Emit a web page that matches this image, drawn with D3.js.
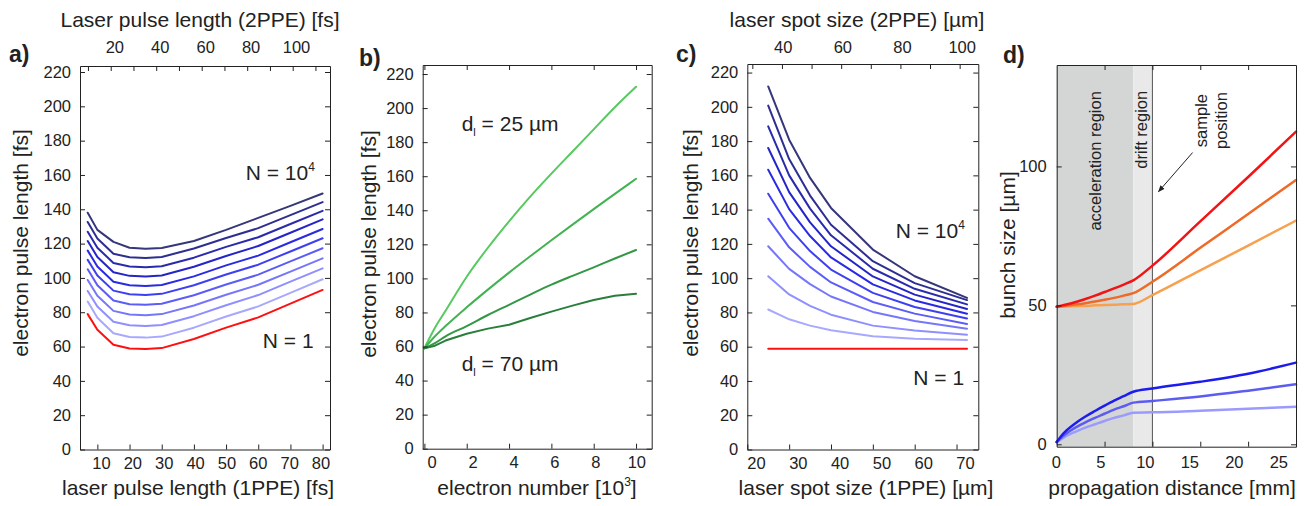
<!DOCTYPE html>
<html>
<head>
<meta charset="utf-8">
<script src="https://d3js.org/d3.v7.min.js"></script>
<style>
  body { margin: 0; background: #fff; }
  svg text { font-family: "Liberation Sans", Arial, Helvetica, sans-serif; fill: #222; }
</style>
</head>
<body>
<div id="chart"></div>
<script>
// ---- data ----

// a) pulse length vs laser pulse length, N = 1 (red) and 10 blue curves up to N = 10^4
var aX = [7, 10, 15, 20, 25, 30, 40, 50, 60, 70, 80];
var aRed = [78.9, 69.8, 61, 58.9, 58.5, 59.1, 64.4, 71, 77, 85, 93];
var aBlue = [
  [86.2, 76.8, 67.7, 65.6, 65.2, 65.8, 71, 77.5, 83.4, 91.3, 99.2],
  [92.4, 83.3, 74.5, 72.4, 72, 72.6, 77.7, 84.1, 90, 97.8, 105.6],
  [98.8, 89.6, 80.8, 78.7, 78.3, 78.9, 83.9, 90.2, 96, 103.7, 111.4],
  [105, 95.7, 86.8, 84.7, 84.3, 84.9, 89.9, 96.2, 101.9, 109.6, 117.3],
  [110.5, 101.4, 92.6, 90.5, 90.1, 90.7, 95.7, 102, 107.7, 115.4, 123.1],
  [115.9, 106.7, 97.8, 95.7, 95.3, 95.9, 100.9, 107.3, 113, 120.8, 128.5],
  [121.5, 112.2, 103.3, 101.2, 100.8, 101.4, 106.5, 112.8, 118.6, 126.3, 134.1],
  [126.9, 117.6, 108.7, 106.6, 106.2, 106.8, 111.8, 118.1, 123.7, 131.4, 139.1],
  [132.6, 123, 114.1, 112, 111.6, 112.2, 117.1, 123.3, 129, 136.6, 144.2],
  [138, 128, 121, 117.6, 117, 117.4, 121.5, 128, 135, 142, 149.2]
];

// b) pulse length vs electron number (10^3)
var bX = [0, 0.5, 1, 2, 3, 4, 5, 6, 7, 8, 9, 10];
var b25 = [59, 71, 81, 101, 118, 133.5, 148, 161.5, 174.5, 187.5, 200.5, 212.5];
var bMid1 = [59, 66, 72, 83, 93.4, 103.4, 113, 122.4, 131.6, 140.7, 149.6, 158.5];
var bMid2 = [59, 62, 66, 72, 78.5, 84.5, 90.5, 96.3, 101.5, 106.5, 111.7, 116.7];
var b70 = [59, 60.5, 63.5, 67.5, 70.5, 72.8, 76.7, 80.5, 84, 87.3, 89.8, 91];

// c) pulse length vs laser spot size
var cX = [25, 30, 35, 40, 50, 60, 72.5];
var cRed = [58.8, 58.8, 58.8, 58.8, 58.8, 58.8, 58.8];
var cBlue = [
  [81.7, 76, 72.3, 69.6, 66.1, 64.7, 63.9],
  [101.1, 90.5, 83.8, 78.7, 72.3, 69.4, 67],
  [118.6, 105.4, 96.5, 89.3, 80.3, 75, 70.5],
  [134.7, 118, 106.6, 97.5, 86.1, 79.3, 73.2],
  [149.3, 129.4, 115.8, 105, 91.4, 83.2, 76.5],
  [163.3, 140.3, 124.6, 112.1, 96.4, 87, 79.2],
  [176, 150.2, 132.6, 118.6, 101, 90.4, 82],
  [188.6, 160, 140.6, 125, 105.5, 93.8, 84.7],
  [200.7, 169.5, 148.2, 131.2, 109.9, 97.1, 87.2],
  [211.9, 180.8, 158.5, 141, 116.7, 101.1, 88.5]
];

// d) bunch size vs propagation distance
var dX = [0, 0.5, 1, 2, 3, 4, 5, 6, 7, 8, 10, 15, 20, 25];
var dRed = [49.5, 49.9, 50.3, 51.2, 52.3, 53.5, 54.8, 56.1, 57.5, 59, 64.3, 80.2, 96.2, 112.5];
var dOrange = [49.5, 49.7, 49.9, 50.3, 50.8, 51.4, 52, 52.7, 53.5, 54.4, 58.5, 70.7, 82.9, 95.1];
var dLightOrange = [49.5, 49.5, 49.6, 49.7, 49.8, 50, 50.1, 50.2, 50.4, 50.5, 53.7, 62.6, 71.5, 80.5];
var dBlue = [0.8, 3.1, 4.9, 7.7, 10, 12, 13.9, 15.7, 17.3, 18.9, 20.1, 22.5, 25.4, 29.4];
var dMidBlue = [0.8, 2.5, 3.9, 6.1, 7.9, 9.5, 11, 12.5, 13.7, 15, 15.6, 17.2, 19.3, 21.6];
var dLightBlue = [0.8, 1.9, 3, 4.6, 6, 7.2, 8.4, 9.5, 10.4, 11.4, 11.5, 12.1, 12.8, 13.5];
var accelEnd = 8;
var samplePos = 10;

// ticks
var pulseTicks = [0, 20, 40, 60, 80, 100, 120, 140, 160, 180, 200, 220];
var aBottomTicks = [10, 20, 30, 40, 50, 60, 70, 80];
var aTopTicks = [10, 20, 30, 40, 50, 60, 70, 80, 90, 100, 110];
var aTopLabels = [20, 40, 60, 80, 100];
var bBottomTicks = [0, 2, 4, 6, 8, 10];
var cBottomTicks = [20, 30, 40, 50, 60, 70];
var cTopTicks = [30, 40, 50, 60, 70, 80, 90, 100];
var cTopLabels = [40, 60, 80, 100];
var dBottomTicks = [0, 5, 10, 15, 20, 25];
var dLeftTicks = [0, 50, 100];

var blueShades = ["#a8a8ff", "#8f8fff", "#7676fb", "#5c5cf6", "#3f3ff2", "#2a2ae4",
                  "#2424c8", "#2a2aac", "#2e2e92", "#36367a"];
var greenShades = ["#56c95f", "#43b252", "#339746", "#2a7e3c"];

// ---- svg ----
var svg = d3.select("#chart")
  .append("svg")
  .attr("width", 1305)
  .attr("height", 506);

var tickFont = 16.5;
var labelFont = 21;

// inward tick marks on the four sides of a box
function drawFrame(x, y, xTicks, yTicks, topScale, topTicks) {
  var xr = x.range(), yr = y.range();
  svg.append("g")
    .attr("transform", `translate(0, ${yr[0]})`)
    .attr("color", "#222")
    .call(d3.axisBottom(x).tickValues(xTicks).tickSize(-5).tickSizeOuter(0).tickFormat(""));
  svg.append("g")
    .attr("transform", `translate(0, ${yr[1]})`)
    .attr("color", "#222")
    .call(d3.axisTop(topScale || x).tickValues(topTicks || xTicks).tickSize(-5).tickSizeOuter(0).tickFormat(""));
  svg.append("g")
    .attr("transform", `translate(${xr[0]}, 0)`)
    .attr("color", "#222")
    .call(d3.axisLeft(y).tickValues(yTicks).tickSize(-5).tickSizeOuter(0).tickFormat(""));
  svg.append("g")
    .attr("transform", `translate(${xr[1]}, 0)`)
    .attr("color", "#222")
    .call(d3.axisRight(y).tickValues(yTicks).tickSize(-5).tickSizeOuter(0).tickFormat(""));
}

// tick labels, drawn with their own label scale
function drawLabels(axis, tx, ty) {
  var g = svg.append("g")
    .attr("transform", `translate(${tx}, ${ty})`)
    .attr("color", "#222")
    .call(axis.tickSize(0));
  g.select(".domain").remove();
  g.attr("font-size", tickFont).attr("font-family", "Liberation Sans, Arial, sans-serif");
  return g;
}

function axisTitle(text, x, y, rotate) {
  var t = svg.append("text")
    .attr("text-anchor", "middle")
    .attr("font-size", labelFont);
  if (rotate) {
    t.attr("transform", `translate(${x}, ${y}) rotate(-90)`);
  } else {
    t.attr("x", x).attr("y", y);
  }
  return t.text(text);
}

function panelLetter(text, x, y) {
  svg.append("text")
    .attr("x", x).attr("y", y)
    .attr("font-size", 23)
    .attr("font-weight", "bold")
    .text(text);
}

function drawLines(x, y, xs, series, colors, width, curve) {
  var line = d3.line()
    .x((d, i) => x(xs[i]))
    .y(d => y(d))
    .curve(curve || d3.curveLinear);
  series.forEach(function(s, i) {
    svg.append("path")
      .attr("d", line(s))
      .attr("fill", "none")
      .attr("stroke", colors[i])
      .attr("stroke-width", width)
      .attr("stroke-linejoin", "round")
      .attr("stroke-linecap", "round");
  });
}

function nLabel(x, y, sup) {
  var t = svg.append("text")
    .attr("x", x).attr("y", y)
    .attr("text-anchor", "end")
    .attr("font-size", labelFont);
  if (sup) {
    t.append("tspan").text("N = 10");
    t.append("tspan").attr("font-size", 12).attr("dy", -9).text(sup);
  } else {
    t.text("N = 1");
  }
}

// ---- panel a ----
var aXScale = d3.scaleLinear().domain([4.6, 82.3]).range([80, 330]);
var aTopScale = d3.scaleLinear().domain([6.5, 116.4]).range([80, 330]);
var aYScale = d3.scaleLinear().domain([0, 223.5]).range([449.5, 66]);

drawLines(aXScale, aYScale, aX, aBlue, blueShades, 2);
drawLines(aXScale, aYScale, aX, [aRed], ["#ff1010"], 2);
drawFrame(aXScale, aYScale, aBottomTicks, pulseTicks, aTopScale, aTopTicks);

drawLabels(d3.axisBottom(d3.scaleLinear().domain([10, 80]).range([101, 320.5]))
  .tickValues(aBottomTicks).tickPadding(8), 0, 449.5);
drawLabels(d3.axisTop(d3.scaleLinear().domain([20, 100]).range([114.3, 296]))
  .tickValues(aTopLabels).tickPadding(13), 0, 66);
drawLabels(d3.axisLeft(aYScale).tickValues(pulseTicks).tickPadding(9), 80, 0);

axisTitle("Laser pulse length (2PPE) [fs]", 200, 27);
axisTitle("laser pulse length (1PPE) [fs]", 198, 495);
axisTitle("electron pulse length [fs]", 28, 243, true);
panelLetter("a)", 9, 62);
nLabel(aXScale(77.6), aYScale(157), "4");
nLabel(aXScale(77.2), aYScale(59.1));

// ---- panel b ----
var bXScale = d3.scaleLinear().domain([-0.08, 10.74]).range([422.7, 651.7]);
var bYScale = d3.scaleLinear().domain([0, 225.3]).range([448.7, 65]);

drawLines(bXScale, bYScale, bX, [b25, bMid1, bMid2], greenShades, 2, d3.curveMonotoneX);
drawLines(bXScale, bYScale, bX, [b70], [greenShades[3]], 2);
drawFrame(bXScale, bYScale, bBottomTicks, pulseTicks);

drawLabels(d3.axisBottom(d3.scaleLinear().domain([0, 10]).range([431.7, 636.3]))
  .tickValues(bBottomTicks).tickPadding(8), 0, 448.7);
drawLabels(d3.axisLeft(bYScale).tickValues(pulseTicks).tickPadding(9), 422.7, 0);

var bTitle = axisTitle("electron number [10", 537, 495);
bTitle.append("tspan").attr("font-size", 12).attr("dy", -9).text("3");
bTitle.append("tspan").attr("dy", 9).text("]");
axisTitle("electron pulse length [fs]", 376, 244, true);
panelLetter("b)", 359, 66);

function dLabel(x, y, value) {
  var t = svg.append("text")
    .attr("x", x).attr("y", y)
    .attr("font-size", labelFont);
  t.append("tspan").text("d");
  t.append("tspan").attr("font-size", 11).attr("dy", 5).text("l");
  t.append("tspan").attr("dy", -5).text(" = " + value + " \u00b5m");
}
dLabel(bXScale(1.76), bYScale(186.5), 25);
dLabel(bXScale(1.76), bYScale(45.8), 70);

// ---- panel c ----
var cXScale = d3.scaleLinear().domain([20, 75.2]).range([747.3, 978.3]);
var cTopScale = d3.scaleLinear().domain([28.3, 106.3]).range([747.3, 978.3]);
var cYScale = d3.scaleLinear().domain([0, 225]).range([449.5, 64]);

drawLines(cXScale, cYScale, cX, cBlue, blueShades, 2);
drawLines(cXScale, cYScale, cX, [cRed], ["#ff1010"], 2);
drawFrame(cXScale, cYScale, cBottomTicks, pulseTicks, cTopScale, cTopTicks);

drawLabels(d3.axisBottom(d3.scaleLinear().domain([20, 70]).range([756, 965]))
  .tickValues(cBottomTicks).tickPadding(8), 0, 449.5);
drawLabels(d3.axisTop(d3.scaleLinear().domain([40, 100]).range([782.7, 961.7]))
  .tickValues(cTopLabels).tickPadding(11.5), 0, 64);
drawLabels(d3.axisLeft(cYScale).tickValues(pulseTicks).tickPadding(9), 747.3, 0);

axisTitle("laser spot size (2PPE) [\u00b5m]", 857, 27);
axisTitle("laser spot size (1PPE) [\u00b5m]", 866, 495);
axisTitle("electron pulse length [fs]", 698, 243, true);
panelLetter("c)", 676, 62);
nLabel(cXScale(72), cYScale(123.3), "4");
nLabel(cXScale(71.8), cYScale(37.6));

// ---- panel d ----
var dXScale = d3.scaleLinear().domain([0, 25]).range([1056.7, 1296]);
var dYScale = d3.scaleLinear().domain([-0.86, 136.5]).range([446.7, 65]);

svg.append("rect")
  .attr("x", dXScale(0)).attr("y", dYScale(136.5))
  .attr("width", dXScale(accelEnd) - dXScale(0))
  .attr("height", dYScale(-0.86) - dYScale(136.5))
  .attr("fill", "#d4d6d6");
svg.append("rect")
  .attr("x", dXScale(accelEnd)).attr("y", dYScale(136.5))
  .attr("width", dXScale(samplePos) - dXScale(accelEnd))
  .attr("height", dYScale(-0.86) - dYScale(136.5))
  .attr("fill", "#e9e9e9");
svg.append("line")
  .attr("x1", dXScale(samplePos)).attr("x2", dXScale(samplePos))
  .attr("y1", dYScale(136.5)).attr("y2", dYScale(-0.86))
  .attr("stroke", "#555").attr("stroke-width", 1);

function regionText(text, x, y) {
  svg.append("text")
    .attr("transform", `translate(${dXScale(x)}, ${dYScale(y)}) rotate(-90)`)
    .attr("text-anchor", "middle")
    .attr("font-size", 16.5)
    .attr("fill", "#333")
    .text(text);
}
regionText("acceleration region", 4.6, 102);
regionText("drift region", 9.45, 113.2);
regionText("sample", 15.7, 116.5);
regionText("position", 17.8, 116.5);

svg.append("defs").append("marker")
  .attr("id", "arrow")
  .attr("viewBox", "0 0 10 10")
  .attr("refX", 9).attr("refY", 5)
  .attr("markerWidth", 7).attr("markerHeight", 7)
  .attr("orient", "auto")
  .append("path")
  .attr("d", "M0,1 L10,5 L0,9 Z")
  .attr("fill", "#222");
svg.append("line")
  .attr("x1", dXScale(14.2)).attr("y1", dYScale(105))
  .attr("x2", dXScale(10.63)).attr("y2", dYScale(90.9))
  .attr("stroke", "#222").attr("stroke-width", 1)
  .attr("marker-end", "url(#arrow)");

drawLines(dXScale, dYScale, dX, [dLightOrange, dOrange, dRed],
  ["#f7a04e", "#ee6a26", "#f01414"], 2.5, d3.curveMonotoneX);
drawLines(dXScale, dYScale, dX, [dLightBlue, dMidBlue, dBlue],
  ["#9a9aff", "#5c5cf2", "#1c1cee"], 2.5, d3.curveMonotoneX);
drawFrame(dXScale, dYScale, [5, 10, 15, 20], dLeftTicks);

drawLabels(d3.axisBottom(d3.scaleLinear().domain([0, 25]).range([1055.8, 1278.3]))
  .tickValues(dBottomTicks).tickPadding(10), 0, 446.7);
drawLabels(d3.axisLeft(dYScale).tickValues(dLeftTicks).tickPadding(10), 1056.7, 0);

axisTitle("propagation distance [mm]", 1172, 495);
axisTitle("bunch size [\u00b5m]", 1015, 245, true);
panelLetter("d)", 1003, 63);
</script>
</body>
</html>
